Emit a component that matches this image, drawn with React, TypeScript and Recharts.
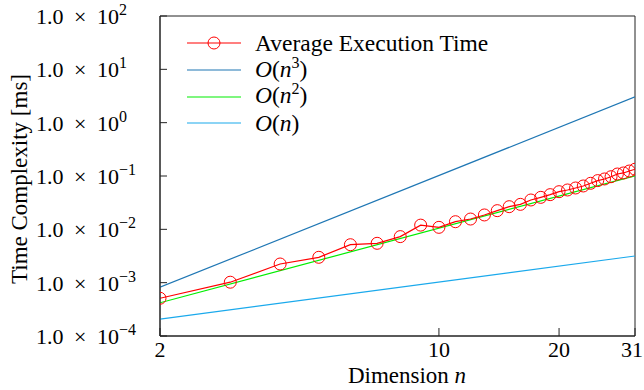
import React from 'react';
import {
  LineChart, Line, XAxis, YAxis, ReferenceArea, Legend,
} from 'recharts';

// dimension n and measured average time [ms]
const DIMS = [2, 3, 4, 5, 6, 7, 8, 9, 10, 11, 12, 13, 14, 15, 16, 17, 18, 19, 20, 21, 22, 23, 24, 25, 26, 27, 28, 29, 30, 31];
const AVG_MS = [
  5.1e-4, 1.02e-3, 2.24e-3, 2.99e-3, 5.15e-3, 5.47e-3, 7.3e-3, 1.2e-2, 1.09e-2, 1.39e-2,
  1.56e-2, 1.86e-2, 2.24e-2, 2.66e-2, 2.94e-2, 3.55e-2, 3.98e-2, 4.47e-2, 5.08e-2, 5.47e-2,
  5.96e-2, 6.5e-2, 7.3e-2, 8.2e-2, 8.8e-2, 9.7e-2, 0.109, 0.114, 0.124, 0.134,
];

// reference complexity lines (end points)
const BOUND_DIMS = [2, 31];
const O_N3 = [8.2e-4, 3.04];
const O_N2 = [4.2e-4, 0.101];
const O_N1 = [2.08e-4, 3.16e-3];

const X_TICKS = [2, 10, 20, 31];
const Y_TICKS = [1e-4, 1e-3, 1e-2, 1e-1, 1, 10, 100];
const Y_TICK_EXP = ['\u22124', '\u22123', '\u22122', '\u22121', '0', '1', '2'];

const avgData = DIMS.map((n, i) => ({ n, v: AVG_MS[i] }));
const n3Data = BOUND_DIMS.map((n, i) => ({ n, v: O_N3[i] }));
const n2Data = BOUND_DIMS.map((n, i) => ({ n, v: O_N2[i] }));
const n1Data = BOUND_DIMS.map((n, i) => ({ n, v: O_N1[i] }));

const AXIS = '#222';
const RED = '#ff0000';
const C_N3 = '#1f77b4';
const C_N2 = '#00ee00';
const C_N1 = '#1aa9ec';
const FONT = "'Liberation Serif', 'Times New Roman', serif";

const YTick = ({ x, y, payload }: any) => {
  const idx = Y_TICKS.indexOf(payload.value);
  return (
    <g>
      <line x1={x} x2={x + 7} y1={y} y2={y} stroke={AXIS} />
      <text y={y + 8} fontSize={22} fill="#000" fontFamily={FONT}>
        <tspan x={x - 124}>1.0</tspan>
        <tspan x={x - 86}>×</tspan>
        <tspan x={x - 63}>10</tspan>
        <tspan x={x - 41} dy={-9} fontSize={16}>{Y_TICK_EXP[idx]}</tspan>
      </text>
    </g>
  );
};

const XTick = ({ x, y, payload, index }: any) => {
  // last label would run past the page edge, keep it inside
  const last = index === X_TICKS.length - 1;
  return (
    <g>
      <line x1={x} x2={x} y1={y} y2={y - 8} stroke={AXIS} />
      <text x={last ? x + 8 : x} y={y + 21} textAnchor={last ? 'end' : 'middle'} fontSize={22} fill="#000" fontFamily={FONT}>
        {payload.value}
      </text>
    </g>
  );
};

const YTitle = () => (
  <text x={27} y={179} transform="rotate(-90 27 179)" textAnchor="middle" fontSize={23} fill="#000" fontFamily={FONT}>
    Time Complexity [ms]
  </text>
);

const XTitle = () => (
  <text x={407} y={383} textAnchor="middle" fontSize={23} fill="#000" fontFamily={FONT}>
    Dimension <tspan fontStyle="italic">n</tspan>
  </text>
);

const Sample = ({ color, marker }: { color: string; marker?: boolean }) => (
  <svg width={54} height={26} style={{ display: 'block' }}>
    <line x1={0} x2={54} y1={13} y2={13} stroke={color} strokeWidth={1.2} />
    {marker && <circle cx={27} cy={13} r={6} fill="none" stroke={RED} strokeWidth={1} />}
  </svg>
);

const Sup = ({ children }: { children: React.ReactNode }) => (
  <span style={{ fontSize: 16, position: 'relative', top: -9 }}>{children}</span>
);

const LegendBox = () => {
  const row: React.CSSProperties = { display: 'flex', alignItems: 'center', height: 26.7 };
  const txt: React.CSSProperties = { marginLeft: 14, fontSize: 23.5, lineHeight: '26px', whiteSpace: 'nowrap' };
  return (
    <div style={{ fontFamily: FONT, color: '#000' }}>
      <div style={row}><Sample color={RED} marker /><span style={txt}>Average Execution Time</span></div>
      <div style={row}><Sample color={C_N3} /><span style={txt}><i>O</i>(<i>n</i><Sup>3</Sup>)</span></div>
      <div style={row}><Sample color={C_N2} /><span style={txt}><i>O</i>(<i>n</i><Sup>2</Sup>)</span></div>
      <div style={row}><Sample color={C_N1} /><span style={txt}><i>O</i>(<i>n</i>)</span></div>
    </div>
  );
};

export default function App() {
  return (
    <div style={{ position: 'absolute', left: 0, top: 0, width: 644, height: 390, background: '#fff', fontFamily: FONT }}>
      <LineChart width={644} height={390} margin={{ top: 16, right: 9, left: 0, bottom: 0 }}>
        <XAxis
          dataKey="n"
          type="number"
          scale="log"
          domain={[2, 31]}
          ticks={X_TICKS}
          interval={0}
          allowDataOverflow
          height={54}
          tickSize={0}
          tickMargin={0}
          tickLine={false}
          axisLine={{ stroke: AXIS }}
          tick={<XTick />}
          label={<XTitle />}
        />
        <YAxis
          dataKey="v"
          type="number"
          scale="log"
          domain={[1e-4, 100]}
          ticks={Y_TICKS}
          interval={0}
          allowDataOverflow
          width={160}
          tickSize={0}
          tickMargin={0}
          tickLine={false}
          axisLine={{ stroke: AXIS }}
          tick={<YTick />}
          label={<YTitle />}
        />
        <ReferenceArea x1={2} x2={31} y1={1e-4} y2={100} fill="none" stroke={AXIS} strokeWidth={1} />
        <Line data={n3Data} dataKey="v" stroke={C_N3} strokeWidth={1.2} dot={false} isAnimationActive={false} />
        <Line data={n2Data} dataKey="v" stroke={C_N2} strokeWidth={1.2} dot={false} isAnimationActive={false} />
        <Line data={n1Data} dataKey="v" stroke={C_N1} strokeWidth={1.2} dot={false} isAnimationActive={false} />
        <Line
          data={avgData}
          dataKey="v"
          stroke={RED}
          strokeWidth={1.2}
          dot={{ r: 6, fill: 'none', stroke: RED, strokeWidth: 1 }}
          isAnimationActive={false}
        />
        <Legend
          layout="horizontal"
          align="center"
          verticalAlign="middle"
          content={<LegendBox />}
          wrapperStyle={{ left: 187, top: 30, width: 330, height: 107 }}
        />
      </LineChart>
    </div>
  );
}
